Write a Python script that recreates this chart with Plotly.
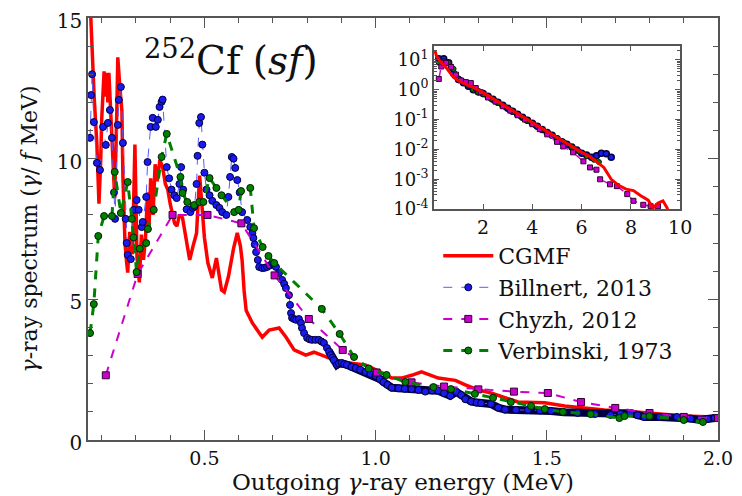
import plotly.graph_objects as go

# ---------------- main panel data (linear) ----------------
cgmf_E = [0.163, 0.168, 0.172, 0.178, 0.186, 0.190, 0.192, 0.197, 0.200, 0.207, 0.211, 0.215, 0.218, 0.221,
          0.227, 0.233, 0.238, 0.244, 0.247, 0.253, 0.259, 0.262, 0.268, 0.273, 0.276, 0.282, 0.290, 0.297,
          0.303, 0.310, 0.316, 0.322, 0.328, 0.334, 0.338, 0.343, 0.350, 0.356, 0.362, 0.370, 0.378, 0.386,
          0.393, 0.400, 0.413, 0.420, 0.427, 0.436, 0.445, 0.457, 0.467, 0.477, 0.486, 0.492, 0.500, 0.510,
          0.523, 0.535, 0.545, 0.550, 0.558, 0.570, 0.585, 0.596, 0.605, 0.610, 0.616, 0.622, 0.640, 0.669,
          0.689, 0.718, 0.738, 0.762, 0.796, 0.820, 0.863, 0.900, 0.970, 1.009, 1.047, 1.076, 1.105, 1.134,
          1.183, 1.233, 1.262, 1.300, 1.337, 1.378, 1.416, 1.494, 1.552, 1.610, 1.668, 1.727, 1.785, 1.843,
          1.900, 1.990]
cgmf_Y = [16.5, 14.8, 14.0, 12.2, 10.5, 8.9, 8.4, 9.9, 11.4, 13.1, 12.2, 13.05, 12.0, 13.05,
          11.4, 9.6, 8.6, 11.6, 13.6, 12.55, 11.7, 9.35, 7.0, 6.3, 5.95, 7.4, 6.6, 10.5,
          6.5, 5.6, 7.3, 6.4, 7.2, 8.8, 7.5, 9.3, 8.0, 9.8, 9.2, 9.95, 9.7, 9.1,
          8.9, 8.4, 7.7, 7.6, 8.0, 7.9, 7.2, 6.4, 6.9, 7.35, 9.4, 8.4, 7.2, 6.3,
          5.76, 6.47, 5.6, 5.33, 5.26, 5.8, 6.8, 7.36, 6.9, 6.4, 5.3, 4.6, 4.16, 3.65,
          3.91, 3.98, 3.66, 3.2, 3.02, 3.12, 2.92, 2.77, 2.67, 2.45, 2.2, 2.2, 2.3, 2.42,
          2.2, 2.12, 1.96, 1.78, 1.67, 1.49, 1.35, 1.32, 1.21, 1.14, 1.07, 1.03, 0.96, 0.92,
          0.85, 0.82]

billnert_E = [0.166, 0.169, 0.172, 0.177, 0.186, 0.195, 0.204, 0.212, 0.218, 0.224, 0.230, 0.236, 0.239,
              0.247, 0.250, 0.256, 0.262, 0.270, 0.273, 0.276, 0.285, 0.294, 0.302, 0.308, 0.317, 0.320,
              0.330, 0.334, 0.343, 0.349, 0.358, 0.364, 0.369, 0.375, 0.378, 0.390, 0.397, 0.404, 0.412,
              0.419, 0.427, 0.432, 0.438, 0.448, 0.459, 0.466, 0.471, 0.477, 0.480, 0.485, 0.490, 0.494,
              0.500, 0.506, 0.515, 0.523, 0.535, 0.544, 0.552, 0.564, 0.570, 0.575, 0.580, 0.585, 0.590,
              0.596, 0.603, 0.610, 0.625, 0.634, 0.640, 0.643, 0.647, 0.651, 0.656, 0.660, 0.669, 0.676,
              0.683, 0.690, 0.698, 0.704, 0.709, 0.718, 0.727, 0.733, 0.738, 0.747, 0.750, 0.753, 0.756,
              0.762, 0.768, 0.776, 0.782, 0.785, 0.791, 0.800, 0.807, 0.814, 0.824, 0.834, 0.842, 0.849,
              0.858, 0.864, 0.869, 0.874, 0.878, 0.887, 0.893, 0.901, 0.908, 0.916, 0.930, 0.942, 0.955,
              0.971, 0.985, 1.000, 1.012, 1.023, 1.035, 1.047, 1.067, 1.085, 1.105, 1.125, 1.145, 1.165,
              1.183, 1.200, 1.218, 1.236, 1.250, 1.262, 1.279, 1.295, 1.308, 1.337, 1.358, 1.378, 1.410,
              1.445, 1.480, 1.512, 1.550, 1.590, 1.640, 1.686, 1.715, 1.744, 1.765, 1.785, 1.830, 1.880,
              1.920, 1.948, 1.970, 1.990]
billnert_Y = [10.74, 12.26, 13.0, 11.3, 9.85, 9.6, 11.13, 10.49, 11.27, 11.73, 10.74, 8.8, 7.86,
              11.2, 12.09, 12.55, 10.56, 7.86, 7.0, 6.58, 6.43, 8.18, 8.53, 8.18, 7.57, 7.75,
              8.64, 9.88, 11.13, 11.45, 11.13, 11.38, 11.84, 12.02, 12.1, 9.7, 9.3, 8.9, 8.7,
              8.6, 9.1, 9.7, 8.9, 8.2, 8.1, 8.25, 8.3, 9.1, 10.1, 11.27, 11.48, 10.5,
              9.5, 8.9, 8.7, 8.5, 8.35, 8.25, 8.1, 8.0, 8.64, 9.35, 10.06, 10.0, 9.67,
              9.24, 8.8, 8.1, 7.82, 7.57, 7.35, 7.18, 6.95, 6.68, 6.4, 6.15, 6.11, 6.12,
              6.15, 6.2, 6.29, 6.22, 6.15, 5.94, 5.69, 5.55, 5.4, 5.15, 4.8, 4.51, 4.34,
              4.3, 4.27, 4.3, 4.16, 3.98, 3.8, 3.63, 3.58, 3.56, 3.56, 3.56, 3.5, 3.45,
              3.27, 3.15, 3.02, 2.93, 2.84, 2.67, 2.72, 2.74, 2.7, 2.67, 2.6, 2.56, 2.5,
              2.42, 2.35, 2.28, 2.17, 2.06, 1.96, 1.86, 1.84, 1.82, 1.81, 1.78, 1.72, 1.76,
              1.75, 1.66, 1.57, 1.71, 1.6, 1.45, 1.37, 1.33, 1.31, 1.28, 1.15, 1.08, 1.07,
              1.07, 1.05, 1.03, 0.99, 0.96, 0.92, 0.89, 0.93, 0.96, 0.88, 0.82, 0.82, 0.82,
              0.76, 0.71, 0.75, 0.78]

chyzh_E = [0.212, 0.305, 0.407, 0.509, 0.608, 0.705, 0.805, 0.904, 1.003, 1.105, 1.200, 1.300, 1.404,
           1.503, 1.600, 1.700, 1.800, 1.900, 2.000]
chyzh_Y = [2.3, 5.9, 8.0, 8.0, 7.7, 5.85, 4.3, 3.2, 2.4, 2.05, 1.9, 1.8, 1.72,
           1.67, 1.35, 1.14, 0.96, 0.82, 0.78]

verb_E = [0.166, 0.177, 0.190, 0.207, 0.230, 0.238, 0.256, 0.276, 0.288, 0.293, 0.302, 0.311, 0.330,
          0.335, 0.352, 0.375, 0.390, 0.430, 0.436, 0.450, 0.470, 0.485, 0.497, 0.515, 0.535, 0.550,
          0.587, 0.600, 0.607, 0.634, 0.645, 0.670, 0.687, 0.704, 0.843, 0.895, 0.937, 0.980, 1.032,
          1.087, 1.169, 1.220, 1.290, 1.343, 1.395, 1.454, 1.494, 1.547, 1.628, 1.712, 1.727, 1.800,
          1.900, 1.956]
verb_Y = [3.8, 4.83, 7.25, 7.96, 7.96, 9.53, 8.07, 9.17, 7.86, 7.2, 5.97, 6.8, 7.0,
          7.5, 8.18, 10.06, 10.88, 9.35, 8.78, 8.46, 8.35, 8.46, 8.46, 9.31, 8.96, 8.7,
          8.1, 8.18, 8.85, 8.96, 7.53, 6.86, 6.54, 6.29, 4.66, 3.77, 2.95, 2.54, 2.31,
          2.06, 1.88, 1.81, 1.64, 1.5, 1.35, 1.21, 1.1, 1.0, 0.92, 0.78, 0.85, 0.85,
          0.71, 0.64]

# ---------------- inset data (log scale) ----------------
in_cgmf_E = [0.05, 0.1, 0.3, 0.5, 0.8, 1.0, 1.3, 1.6, 2.0, 2.5, 3.0, 3.5, 4.0, 4.5, 5.0, 5.5, 6.0, 6.3,
             6.6, 6.9, 7.2, 7.5, 7.8, 8.1, 8.4, 8.7, 8.9, 9.1, 9.3, 9.5]
in_cgmf_Y = [20, 14, 8, 5.5, 2.6, 2.0, 1.5, 1.2, 0.8, 0.45, 0.25, 0.14, 0.08, 0.045, 0.025, 0.014, 0.008,
             0.006, 0.004, 0.0025, 0.001, 0.00063, 0.00047, 0.00042, 0.00028, 0.0002, 0.00011,
             0.00016, 0.00019, 0.0001]

in_bill_E = [0.2, 0.4, 0.6, 0.8, 1.0, 1.2, 1.4, 1.6, 1.8, 2.0, 2.2, 2.4, 2.6, 2.8, 3.0, 3.2, 3.4, 3.6,
             3.8, 4.0, 4.2, 4.4, 4.6, 4.8, 5.0, 5.2, 5.4, 5.6, 5.8, 6.0, 6.2, 6.4, 6.6, 6.8, 7.0, 7.2]
in_bill_Y = [11, 11, 8, 3.5, 2.2, 1.7, 1.3, 1.0, 0.85, 0.75, 0.6, 0.48, 0.38, 0.3, 0.24, 0.19, 0.15,
             0.12, 0.095, 0.075, 0.06, 0.047, 0.037, 0.03, 0.023, 0.018, 0.015, 0.012, 0.0095,
             0.0075, 0.0065, 0.0055, 0.0062, 0.0075, 0.0072, 0.0055]

in_chyzh_E = [0.2, 0.3, 0.4, 0.5, 0.7, 0.9, 1.1, 1.3, 1.5, 1.7, 1.9, 2.2, 2.5, 2.8, 3.1, 3.4, 3.7, 4.0,
              4.3, 4.6, 5.0, 5.25, 5.65, 6.07, 6.34, 6.6, 6.75, 7.15, 7.43, 7.85, 8.1, 8.5, 8.8, 9.1]
in_chyzh_Y = [2.3, 6.0, 8.0, 8.0, 5.8, 3.2, 2.05, 1.8, 1.67, 1.14, 0.82, 0.55, 0.4, 0.28, 0.2, 0.14,
              0.1, 0.07, 0.048, 0.032, 0.018, 0.0126, 0.008, 0.004, 0.0025, 0.0021, 0.001, 0.00068,
              0.00059, 0.00032, 0.00019, 0.00014, 0.000126, 0.000126]

in_verb_E = [0.2, 0.4, 0.6, 0.8, 1.0, 1.2, 1.4, 1.6, 1.8, 2.0, 2.3, 2.6, 2.9, 3.2, 3.5, 3.8, 4.1, 4.4,
             4.7, 5.0, 5.3, 5.6, 5.9, 6.2, 6.5, 6.7]
in_verb_Y = [8, 9, 8, 5, 2.4, 1.9, 1.5, 1.0, 0.8, 0.7, 0.5, 0.36, 0.26, 0.18, 0.13, 0.09, 0.065, 0.046,
             0.033, 0.024, 0.017, 0.012, 0.0085, 0.006, 0.0045, 0.0038]

inset_ytick_vals = [1e-4, 1e-3, 1e-2, 1e-1, 1e0, 1e1]
inset_ytick_text = ["10<sup>-4</sup>", "10<sup>-3</sup>", "10<sup>-2</sup>", "10<sup>-1</sup>",
                    "10<sup>0</sup>", "10<sup>1</sup>"]
main_xtick_vals = [0.5, 1.0, 1.5, 2.0]
main_xtick_text = ["0.5", "1.0", "1.5", "2.0"]
main_ytick_vals = [0, 5, 10, 15]

RED = "#ff0000"
BLUE_LINE = "#5a5aff"
BLUE_FILL = "#1a1aee"
NAVY = "#000040"
MAG = "#cc00cc"
GREEN = "#008000"
FONT = "DejaVu Serif"

fig = go.Figure()

fig.add_trace(go.Scatter(x=cgmf_E, y=cgmf_Y, mode="lines", name="CGMF",
                         line=dict(color=RED, width=3.5)))
band_E = [e for e in billnert_E if e >= 0.86]
band_Y = [y for e, y in zip(billnert_E, billnert_Y) if e >= 0.86]
fig.add_trace(go.Scatter(x=band_E, y=band_Y, mode="lines", showlegend=False, hoverinfo="skip",
                         line=dict(color=NAVY, width=8)))
fig.add_trace(go.Scatter(x=billnert_E, y=billnert_Y, mode="lines+markers", name="Billnert, 2013",
                         line=dict(color=BLUE_LINE, width=1, dash="dash"),
                         marker=dict(symbol="circle", size=7, color=BLUE_FILL,
                                     line=dict(color=NAVY, width=1))))
fig.add_trace(go.Scatter(x=chyzh_E, y=chyzh_Y, mode="lines+markers", name="Chyzh, 2012",
                         line=dict(color=MAG, width=2, dash="dash"),
                         marker=dict(symbol="square", size=7, color=MAG,
                                     line=dict(color="#300030", width=1))))
fig.add_trace(go.Scatter(x=verb_E, y=verb_Y, mode="lines+markers", name="Verbinski, 1973",
                         line=dict(color=GREEN, width=3, dash="dash"),
                         marker=dict(symbol="circle", size=7, color=GREEN,
                                     line=dict(color="#002000", width=1))))

# inset
fig.add_trace(go.Scatter(x=in_bill_E, y=in_bill_Y, xaxis="x2", yaxis="y2", mode="lines+markers",
                         showlegend=False, line=dict(color=NAVY, width=4),
                         marker=dict(size=6, color=BLUE_FILL, line=dict(color=NAVY, width=1.5))))
fig.add_trace(go.Scatter(x=in_verb_E, y=in_verb_Y, xaxis="x2", yaxis="y2", mode="lines+markers",
                         showlegend=False, line=dict(color=GREEN, width=2, dash="dash"),
                         marker=dict(size=5, color=GREEN, line=dict(color="#002000", width=1))))
fig.add_trace(go.Scatter(x=in_chyzh_E, y=in_chyzh_Y, xaxis="x2", yaxis="y2", mode="lines+markers",
                         showlegend=False, line=dict(color=MAG, width=1.5, dash="dash"),
                         marker=dict(symbol="square", size=5, color=MAG, line=dict(color="#300030", width=1))))
fig.add_trace(go.Scatter(x=in_cgmf_E, y=in_cgmf_Y, xaxis="x2", yaxis="y2", mode="lines",
                         showlegend=False, line=dict(color=RED, width=3)))

axis_common = dict(showline=True, linecolor="#555555", linewidth=1.5, mirror="allticks",
                   ticks="inside", tickcolor="#555555", showgrid=False, zeroline=False,
                   automargin=False, ticklabeloverflow="allow")

# page body adds an 8 px offset, so the figure is 734x488 to end at the window edge
fig.update_layout(
    width=734, height=488,
    margin=dict(l=80, r=24, t=10, b=56),
    paper_bgcolor="white", plot_bgcolor="white",
    font=dict(family=FONT, color="#111111", size=20),
    xaxis=dict(range=[0.16, 2.0], tickvals=main_xtick_vals, ticktext=main_xtick_text,
               ticklen=10, tickfont=dict(size=19),
               minor=dict(dtick=0.1, tick0=0, ticklen=5, ticks="inside", tickcolor="#555555"),
               title=dict(text="Outgoing <i>γ</i>-ray energy (MeV)", font=dict(size=23), standoff=1),
               **axis_common),
    yaxis=dict(range=[0, 15], tickvals=main_ytick_vals, ticklen=10, tickfont=dict(size=20),
               ticklabelshift=3,
               minor=dict(dtick=1, ticklen=5, ticks="inside", tickcolor="#555555"),
               title=dict(text="<i>γ</i>-ray spectrum (<i>γ</i>/ <i>f</i> MeV)", font=dict(size=22),
                          standoff=13),
               **axis_common),
    xaxis2=dict(domain=[0.549, 0.940], anchor="y2", range=[0, 10], tickvals=[2, 4, 6, 8, 10],
                ticklen=5, tickfont=dict(size=19), **axis_common),
    yaxis2=dict(domain=[0.547, 0.934], anchor="x2", type="log", range=[-4, 1.47],
                tickvals=inset_ytick_vals, ticktext=inset_ytick_text, ticklen=5,
                tickfont=dict(size=18),
                minor=dict(ticks="inside", ticklen=3, tickcolor="#555555", dtick="D1"),
                **axis_common),
    legend=dict(x=0.556, y=0.486, xanchor="left", yanchor="top", bgcolor="rgba(0,0,0,0)",
                font=dict(size=22, family=FONT), itemwidth=50, tracegroupgap=0),
    annotations=[dict(text="<sup>252</sup>Cf (<i>sf</i>)", xref="paper", yref="paper",
                      x=0.085, y=0.905, xanchor="left", yanchor="middle", showarrow=False,
                      font=dict(size=39, family=FONT, color="#111111"))],
)

fig.write_html("out.html")
